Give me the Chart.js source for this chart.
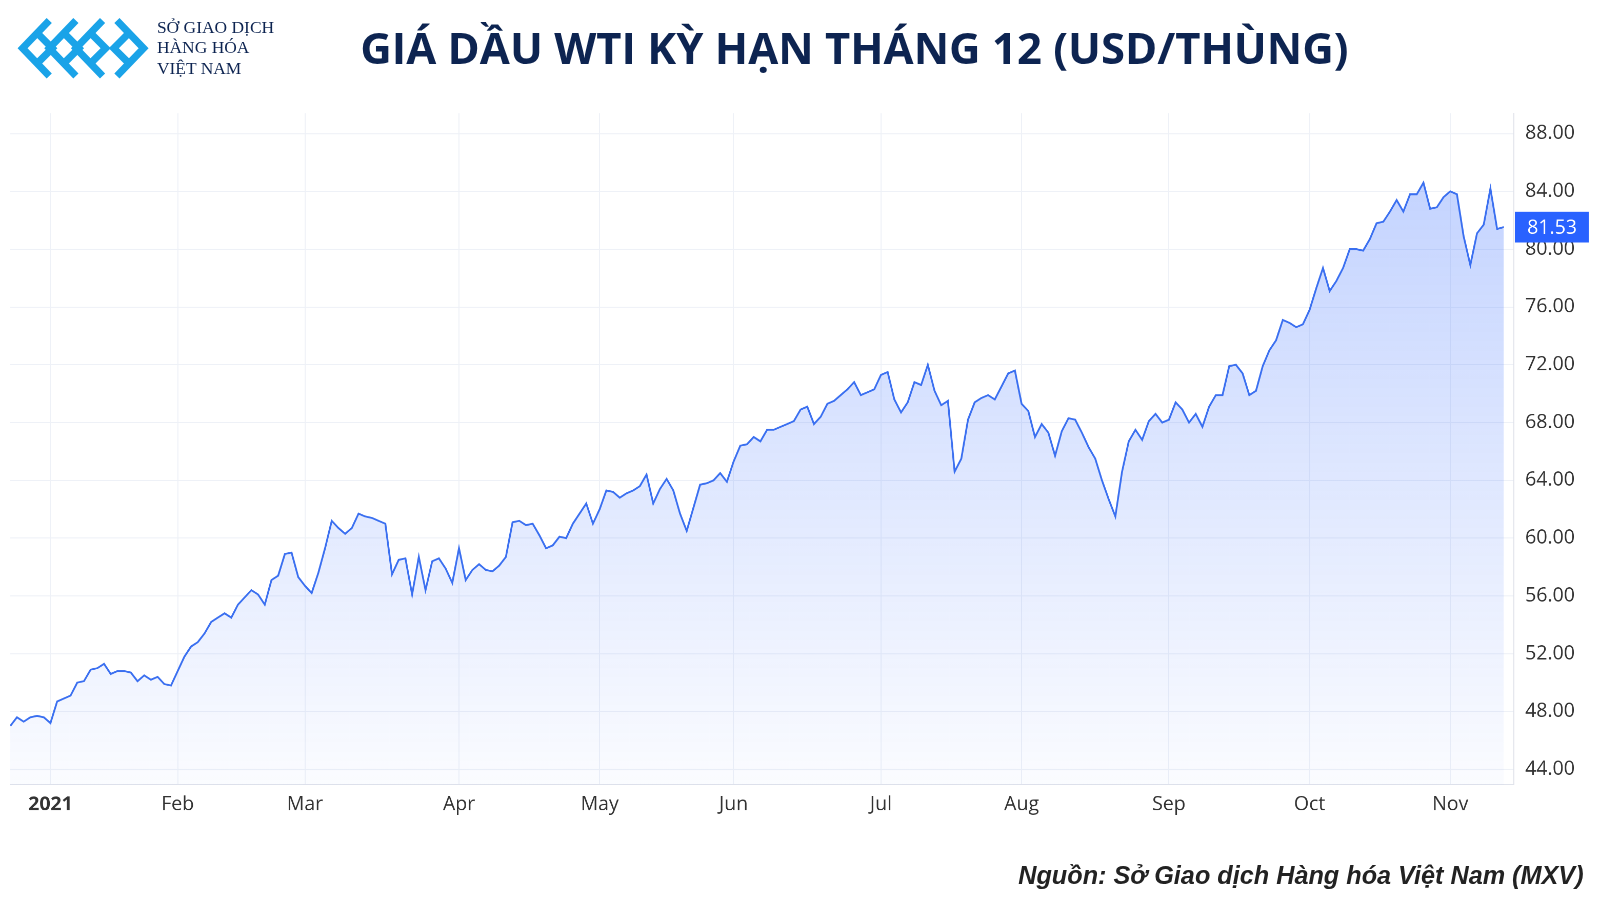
<!DOCTYPE html>
<html><head><meta charset="utf-8">
<script src="https://cdn.jsdelivr.net/npm/chart.js@4/dist/chart.umd.min.js"></script>
<style>
body{margin:0;width:1600px;height:900px;background:#fff;font-family:"Open Sans",sans-serif;overflow:hidden}
#page{position:absolute;left:0;top:0;width:1560px;height:878px;transform:scale(1.02564);transform-origin:0 0}
#title{position:absolute;left:298px;width:1070px;top:17px;text-align:center;font:700 42.5px "Open Sans",sans-serif;color:#0d2451;white-space:nowrap}
#logo{position:absolute;left:16px;top:14px}
#logotext{position:absolute;left:153px;top:17px;font:17px "Liberation Serif",serif;color:#0d2451;line-height:20px}
#src{position:absolute;right:16px;top:840px;font:italic 700 24.6px "Liberation Sans",Arial,sans-serif;color:#222}
#wrap{position:absolute;left:0;top:88px;width:1560px;height:724px}
</style></head><body><div id="page">
<svg id="logo" width="130" height="66" viewBox="0 0 130 66">
<g fill="none" stroke="#1aa3e8" stroke-width="7">
<path d="M32 6 L6 33 L32 60"/><path d="M20 18 L35 33 L20 48"/>
<path d="M58 6 L32 33 L58 60"/><path d="M46 18 L61 33 L46 48"/>
<path d="M84 6 L58 33 L84 60"/><path d="M72 18 L87 33 L72 48"/>
<path d="M98 6 L124 33 L98 60"/><path d="M110 18 L95 33 L110 48"/>
</g></svg>
<div id="logotext">SỞ GIAO DỊCH<br>HÀNG HÓA<br>VIỆT NAM</div>
<div id="title">GIÁ DẦU WTI KỲ HẠN THÁNG 12 (USD/THÙNG)</div>
<div id="wrap"><canvas id="c"></canvas></div>
<div id="src">Nguồn: Sở Giao dịch Hàng hóa Việt Nam (MXV)</div>
</div>
<script>
const dec2020=[47.0,47.6,47.3,47.6,47.7,47.6];
const jan=[47.2,48.7,48.9,49.1,50.0,50.1,50.9,51.0,51.3,50.6,50.8,50.8,50.7,50.1,50.5,50.2,50.4,49.9,49.8];
const feb=[50.8,51.8,52.5,52.8,53.4,54.2,54.5,54.8,54.5,55.4,55.9,56.4,56.1,55.4,57.1,57.4,58.9,59.0,57.3];
const mar=[56.7,56.2,57.6,59.3,61.2,60.7,60.3,60.7,61.7,61.5,61.4,61.2,61.0,57.5,58.5,58.6,56.1,58.7,56.4,58.4,58.6,57.9,56.9];
const apr=[59.3,57.1,57.8,58.2,57.8,57.7,58.1,58.7,61.1,61.2,60.9,61.0,60.2,59.3,59.5,60.1,60.0,61.0,61.7,62.4,61.0];
const may=[62.0,63.3,63.2,62.8,63.1,63.3,63.6,64.4,62.4,63.4,64.1,63.3,61.7,60.5,62.1,63.7,63.8,64.0,64.5,63.9];
const jun=[65.3,66.4,66.5,67.0,66.7,67.5,67.5,67.7,67.9,68.1,68.9,69.1,67.9,68.4,69.3,69.5,69.9,70.3,70.8,69.9,70.1,70.3];
const jul=[71.3,71.5,69.6,68.7,69.4,70.8,70.6,72.0,70.2,69.2,69.5,64.6,65.5,68.2,69.4,69.7,69.9,69.6,70.5,71.4,71.6];
const aug=[69.3,68.8,67.0,67.9,67.3,65.7,67.4,68.3,68.2,67.3,66.3,65.5,64.0,62.7,61.5,64.6,66.7,67.5,66.8,68.1,68.6,68.0];
const sep=[68.2,69.4,68.9,68.0,68.6,67.7,69.1,69.9,69.9,71.9,72.0,71.4,69.9,70.2,71.9,73.0,73.7,75.1,74.9,74.6,74.8];
const oct=[75.8,77.3,78.7,77.1,77.8,78.7,80.0,80.0,79.9,80.7,81.8,81.9,82.6,83.4,82.6,83.8,83.8,84.6,82.8,82.9,83.6];
const nov=[84.0,83.8,80.9,78.9,81.1,81.7,84.2,81.4,81.53];
const monthLabels=["2021","Feb","Mar","Apr","May","Jun","Jul","Aug","Sep","Oct","Nov"];
const yTicks=[44,48,52,56,60,64,68,72,76,80,84,88];
const monthSeries=[jan,feb,mar,apr,may,jun,jul,aug,sep,oct,nov];
const values=[...dec2020];const monthStart=[];
monthSeries.forEach(m=>{monthStart.push(values.length);values.push(...m);});
const pts=values.map((v,i)=>({x:i,y:v}));
const last=values[values.length-1];
const lastLabel={id:'lastLabel',afterDraw(ch){const y=ch.scales.y.getPixelForValue(last);const c=ch.ctx;const x=ch.chartArea.right+1;
c.save();c.fillStyle='#2962ff';c.fillRect(x,y-15,72,30);c.fillStyle='#fff';c.font='19px "Open Sans"';c.textBaseline='middle';c.textAlign='left';c.fillText(last.toFixed(2),x+12,y+1);c.restore();}};
new Chart(document.getElementById('c'),{type:'line',
data:{datasets:[{data:pts,borderColor:'#3a6ff0',borderWidth:1.8,pointRadius:0,tension:0,fill:'start',
backgroundColor:(ctx)=>{const a=ctx.chart.chartArea;if(!a)return'rgba(41,98,255,0.15)';const g=ctx.chart.ctx.createLinearGradient(0,a.top,0,a.bottom);g.addColorStop(0,'rgba(41,98,255,0.30)');g.addColorStop(1,'rgba(41,98,255,0.02)');return g;}}]},
options:{responsive:true,maintainAspectRatio:false,animation:false,devicePixelRatio:2,
layout:{padding:{left:10,top:5,right:0,bottom:0}},
plugins:{legend:{display:false},tooltip:{enabled:false}},
scales:{
x:{type:'linear',min:0,max:values.length+0.5,offset:false,
afterBuildTicks(s){s.ticks=monthStart.map(v=>({value:v}));},
afterFit(s){s.height=47;},
ticks:{autoSkip:false,maxRotation:0,padding:8,color:'#333',font:(c)=>({size:19,family:'"Open Sans"',weight:c.index===0?'bold':'normal'}),callback:(v,i)=>monthLabels[i]},
grid:{color:'#eef1f7',drawTicks:false},border:{color:'#e0e3eb'}},
y:{position:'right',min:42.94,max:89.41,
afterBuildTicks(s){s.ticks=yTicks.map(v=>({value:v}));},
afterFit(s){s.width=84;},
ticks:{padding:11,color:'#333',font:{size:19,family:'"Open Sans"'},callback:v=>v.toFixed(2)},
grid:{color:'#eef1f7',drawTicks:false},border:{color:'#e0e3eb'}}}},
plugins:[lastLabel]});
</script></body></html>
